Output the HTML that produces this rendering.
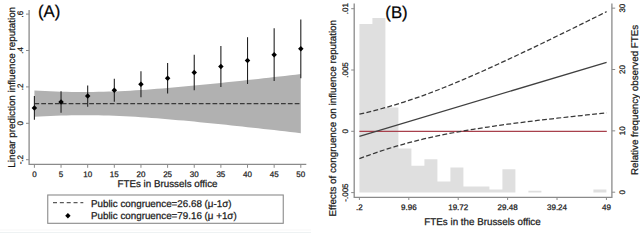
<!DOCTYPE html>
<html><head><meta charset="utf-8"><style>
html,body{margin:0;padding:0;background:#fff;width:640px;height:233px;overflow:hidden}
svg{display:block;font-family:"Liberation Sans",sans-serif;text-rendering:geometricPrecision} text{stroke:#1a1a1a;stroke-width:0.25px}
</style></head><body>
<svg width="640" height="233" viewBox="0 0 640 233">
<path d="M34.40,90.40 L39.73,90.71 L45.06,90.99 L50.38,91.23 L55.71,91.45 L61.04,91.63 L66.37,91.78 L71.70,91.89 L77.02,91.96 L82.35,92.00 L87.68,92.00 L93.01,91.95 L98.34,91.87 L103.66,91.76 L108.99,91.60 L114.32,91.41 L119.65,91.19 L124.98,90.94 L130.30,90.66 L135.63,90.34 L140.96,90.01 L146.29,89.65 L151.62,89.26 L156.94,88.86 L162.27,88.44 L167.60,88.00 L172.93,87.54 L178.26,87.07 L183.58,86.59 L188.91,86.09 L194.24,85.59 L199.57,85.07 L204.90,84.54 L210.22,84.01 L215.55,83.47 L220.88,82.91 L226.21,82.36 L231.54,81.79 L236.86,81.22 L242.19,80.65 L247.52,80.07 L252.85,79.48 L258.18,78.90 L263.50,78.30 L268.83,77.71 L274.16,77.11 L279.49,76.50 L284.82,75.90 L290.14,75.29 L295.47,74.67 L300.80,74.06 L300.80,133.14 L295.47,132.53 L290.14,131.91 L284.82,131.30 L279.49,130.70 L274.16,130.09 L268.83,129.49 L263.50,128.90 L258.18,128.30 L252.85,127.72 L247.52,127.13 L242.19,126.55 L236.86,125.98 L231.54,125.41 L226.21,124.84 L220.88,124.29 L215.55,123.73 L210.22,123.19 L204.90,122.66 L199.57,122.13 L194.24,121.61 L188.91,121.11 L183.58,120.61 L178.26,120.13 L172.93,119.66 L167.60,119.20 L162.27,118.76 L156.94,118.34 L151.62,117.94 L146.29,117.55 L140.96,117.19 L135.63,116.86 L130.30,116.54 L124.98,116.26 L119.65,116.01 L114.32,115.79 L108.99,115.60 L103.66,115.44 L98.34,115.33 L93.01,115.25 L87.68,115.20 L82.35,115.20 L77.02,115.24 L71.70,115.31 L66.37,115.42 L61.04,115.57 L55.71,115.75 L50.38,115.97 L45.06,116.21 L39.73,116.49 L34.40,116.80Z" fill="#b1b1b1"/>
<line x1="34.40" y1="103.6" x2="300.80" y2="103.6" stroke="#3a3a3a" stroke-width="1.3" stroke-dasharray="4.75 2.1"/>
<line x1="34.40" y1="96.00" x2="34.40" y2="119.80" stroke="#222" stroke-width="1.1"/>
<path d="M34.40,105.15 L37.15,107.90 L34.40,110.65 L31.65,107.90Z" fill="#000"/>
<line x1="61.04" y1="91.19" x2="61.04" y2="112.79" stroke="#222" stroke-width="1.1"/>
<path d="M61.04,99.24 L63.79,101.99 L61.04,104.74 L58.29,101.99Z" fill="#000"/>
<line x1="87.68" y1="85.43" x2="87.68" y2="106.73" stroke="#222" stroke-width="1.1"/>
<path d="M87.68,93.33 L90.43,96.08 L87.68,98.83 L84.93,96.08Z" fill="#000"/>
<line x1="114.32" y1="78.69" x2="114.32" y2="101.65" stroke="#222" stroke-width="1.1"/>
<path d="M114.32,87.42 L117.07,90.17 L114.32,92.92 L111.57,90.17Z" fill="#000"/>
<line x1="140.96" y1="71.16" x2="140.96" y2="97.36" stroke="#222" stroke-width="1.1"/>
<path d="M140.96,81.51 L143.71,84.26 L140.96,87.01 L138.21,84.26Z" fill="#000"/>
<line x1="167.60" y1="63.08" x2="167.60" y2="93.62" stroke="#222" stroke-width="1.1"/>
<path d="M167.60,75.60 L170.35,78.35 L167.60,81.10 L164.85,78.35Z" fill="#000"/>
<line x1="194.24" y1="54.65" x2="194.24" y2="90.23" stroke="#222" stroke-width="1.1"/>
<path d="M194.24,69.69 L196.99,72.44 L194.24,75.19 L191.49,72.44Z" fill="#000"/>
<line x1="220.88" y1="46.00" x2="220.88" y2="87.06" stroke="#222" stroke-width="1.1"/>
<path d="M220.88,63.78 L223.63,66.53 L220.88,69.28 L218.13,66.53Z" fill="#000"/>
<line x1="247.52" y1="37.21" x2="247.52" y2="84.03" stroke="#222" stroke-width="1.1"/>
<path d="M247.52,57.87 L250.27,60.62 L247.52,63.37 L244.77,60.62Z" fill="#000"/>
<line x1="274.16" y1="28.33" x2="274.16" y2="81.09" stroke="#222" stroke-width="1.1"/>
<path d="M274.16,51.96 L276.91,54.71 L274.16,57.46 L271.41,54.71Z" fill="#000"/>
<line x1="300.80" y1="19.38" x2="300.80" y2="78.22" stroke="#222" stroke-width="1.1"/>
<path d="M300.80,46.05 L303.55,48.80 L300.80,51.55 L298.05,48.80Z" fill="#000"/>
<path d="M29.1,10 V164.4 H306.3" fill="none" stroke="#8a8a8a" stroke-width="1.3"/>
<line x1="26" y1="159.70" x2="29.1" y2="159.70" stroke="#8a8a8a" stroke-width="1"/>
<text transform="translate(22.7,159.70) rotate(-90)" text-anchor="middle" font-size="8" fill="#1a1a1a">-.2</text>
<line x1="26" y1="123.30" x2="29.1" y2="123.30" stroke="#8a8a8a" stroke-width="1"/>
<text transform="translate(22.7,123.30) rotate(-90)" text-anchor="middle" font-size="8" fill="#1a1a1a">0</text>
<line x1="26" y1="86.90" x2="29.1" y2="86.90" stroke="#8a8a8a" stroke-width="1"/>
<text transform="translate(22.7,86.90) rotate(-90)" text-anchor="middle" font-size="8" fill="#1a1a1a">.2</text>
<line x1="26" y1="50.50" x2="29.1" y2="50.50" stroke="#8a8a8a" stroke-width="1"/>
<text transform="translate(22.7,50.50) rotate(-90)" text-anchor="middle" font-size="8" fill="#1a1a1a">.4</text>
<line x1="26" y1="14.10" x2="29.1" y2="14.10" stroke="#8a8a8a" stroke-width="1"/>
<text transform="translate(22.7,14.10) rotate(-90)" text-anchor="middle" font-size="8" fill="#1a1a1a">.6</text>
<line x1="34.40" y1="164.4" x2="34.40" y2="167.8" stroke="#8a8a8a" stroke-width="1"/>
<text x="34.40" y="176.9" text-anchor="middle" font-size="8" fill="#1a1a1a">0</text>
<line x1="61.04" y1="164.4" x2="61.04" y2="167.8" stroke="#8a8a8a" stroke-width="1"/>
<text x="61.04" y="176.9" text-anchor="middle" font-size="8" fill="#1a1a1a">5</text>
<line x1="87.68" y1="164.4" x2="87.68" y2="167.8" stroke="#8a8a8a" stroke-width="1"/>
<text x="87.68" y="176.9" text-anchor="middle" font-size="8" fill="#1a1a1a">10</text>
<line x1="114.32" y1="164.4" x2="114.32" y2="167.8" stroke="#8a8a8a" stroke-width="1"/>
<text x="114.32" y="176.9" text-anchor="middle" font-size="8" fill="#1a1a1a">15</text>
<line x1="140.96" y1="164.4" x2="140.96" y2="167.8" stroke="#8a8a8a" stroke-width="1"/>
<text x="140.96" y="176.9" text-anchor="middle" font-size="8" fill="#1a1a1a">20</text>
<line x1="167.60" y1="164.4" x2="167.60" y2="167.8" stroke="#8a8a8a" stroke-width="1"/>
<text x="167.60" y="176.9" text-anchor="middle" font-size="8" fill="#1a1a1a">25</text>
<line x1="194.24" y1="164.4" x2="194.24" y2="167.8" stroke="#8a8a8a" stroke-width="1"/>
<text x="194.24" y="176.9" text-anchor="middle" font-size="8" fill="#1a1a1a">30</text>
<line x1="220.88" y1="164.4" x2="220.88" y2="167.8" stroke="#8a8a8a" stroke-width="1"/>
<text x="220.88" y="176.9" text-anchor="middle" font-size="8" fill="#1a1a1a">35</text>
<line x1="247.52" y1="164.4" x2="247.52" y2="167.8" stroke="#8a8a8a" stroke-width="1"/>
<text x="247.52" y="176.9" text-anchor="middle" font-size="8" fill="#1a1a1a">40</text>
<line x1="274.16" y1="164.4" x2="274.16" y2="167.8" stroke="#8a8a8a" stroke-width="1"/>
<text x="274.16" y="176.9" text-anchor="middle" font-size="8" fill="#1a1a1a">45</text>
<line x1="300.80" y1="164.4" x2="300.80" y2="167.8" stroke="#8a8a8a" stroke-width="1"/>
<text x="300.80" y="176.9" text-anchor="middle" font-size="8" fill="#1a1a1a">50</text>
<text x="167.5" y="186.6" text-anchor="middle" font-size="9.8" fill="#1a1a1a">FTEs in Brussels office</text>
<text transform="translate(15,87.3) rotate(-90)" text-anchor="middle" font-size="9.8" fill="#1a1a1a">Linear prediction influence reputation</text>
<text x="38" y="16.6" font-size="16.8" fill="#000">(A)</text>
<rect x="47.75" y="195" width="235.5" height="28.3" fill="#fff" stroke="#8a8a8a" stroke-width="1.1"/>
<line x1="53" y1="202.6" x2="83.3" y2="202.6" stroke="#5a5a5a" stroke-width="1.4" stroke-dasharray="4 2.85"/>
<path d="M67.9,213 L70.6,215.7 L67.9,218.4 L65.2,215.7Z" fill="#000"/>
<text x="91" y="206.6" font-size="9.8" fill="#1a1a1a">Public congruence=26.68 (μ-1σ)</text>
<text x="91" y="219.3" font-size="9.8" fill="#1a1a1a">Public congruence=79.16 (μ +1σ)</text>
<rect x="0" y="232" width="311" height="1" fill="#eef2f3"/>
<rect x="0" y="229" width="311" height="2" fill="#fbfbfb"/>
<path d="M359.40,192.5 L359.40,23.90 L372.40,23.90 L372.40,18.10 L385.40,18.10 L385.40,107.40 L398.40,107.40 L398.40,148.50 L411.40,148.50 L411.40,165.70 L424.40,165.70 L424.40,159.30 L437.40,159.30 L437.40,181.50 L450.40,181.50 L450.40,167.60 L463.40,167.60 L463.40,186.60 L476.40,186.60 L476.40,186.60 L489.40,186.60 L489.40,189.50 L502.40,189.50 L502.40,169.20 L515.40,169.20 L515.40,192.5 Z M528.40,192.5 L528.40,190.70 L541.40,190.70 L541.40,192.5 Z M593.40,192.5 L593.40,189.50 L606.40,189.50 L606.40,192.5 Z " fill="#dfdfdf"/>
<line x1="359.4" y1="131.4" x2="606.8" y2="131.4" stroke="#a8404c" stroke-width="1.2"/>
<line x1="359.4" y1="136.4" x2="606.6" y2="62.3" stroke="#404040" stroke-width="1.25"/>
<path d="M359.40,114.15 L364.34,113.02 L369.29,111.83 L374.23,110.60 L379.18,109.31 L384.12,107.97 L389.06,106.58 L394.01,105.13 L398.95,103.63 L403.90,102.07 L408.84,100.46 L413.78,98.79 L418.73,97.07 L423.67,95.30 L428.62,93.48 L433.56,91.62 L438.50,89.71 L443.45,87.76 L448.39,85.77 L453.34,83.75 L458.28,81.69 L463.22,79.59 L468.17,77.47 L473.11,75.32 L478.06,73.15 L483.00,70.95 L487.94,68.72 L492.89,66.48 L497.83,64.22 L502.78,61.94 L507.72,59.65 L512.66,57.34 L517.61,55.02 L522.55,52.68 L527.50,50.33 L532.44,47.97 L537.38,45.60 L542.33,43.22 L547.27,40.83 L552.22,38.44 L557.16,36.03 L562.10,33.62 L567.05,31.20 L571.99,28.78 L576.94,26.35 L581.88,23.91 L586.82,21.47 L591.77,19.02 L596.71,16.57 L601.66,14.11 L606.60,11.65" fill="none" stroke="#383838" stroke-width="1.25" stroke-dasharray="4.9 2.3"/>
<path d="M359.40,158.65 L364.34,156.82 L369.29,155.04 L374.23,153.31 L379.18,151.63 L384.12,150.01 L389.06,148.43 L394.01,146.92 L398.95,145.46 L403.90,144.05 L408.84,142.70 L413.78,141.41 L418.73,140.16 L423.67,138.97 L428.62,137.82 L433.56,136.72 L438.50,135.66 L443.45,134.65 L448.39,133.68 L453.34,132.74 L458.28,131.83 L463.22,130.96 L468.17,130.12 L473.11,129.31 L478.06,128.52 L483.00,127.75 L487.94,127.01 L492.89,126.29 L497.83,125.59 L502.78,124.90 L507.72,124.23 L512.66,123.58 L517.61,122.94 L522.55,122.31 L527.50,121.69 L532.44,121.09 L537.38,120.49 L542.33,119.91 L547.27,119.33 L552.22,118.77 L557.16,118.21 L562.10,117.65 L567.05,117.11 L571.99,116.57 L576.94,116.04 L581.88,115.51 L586.82,114.99 L591.77,114.47 L596.71,113.96 L601.66,113.45 L606.60,112.95" fill="none" stroke="#383838" stroke-width="1.25" stroke-dasharray="4.9 2.3"/>
<path d="M354.2,3.5 V197.3 H611.9 V3.5" fill="none" stroke="#8a8a8a" stroke-width="1.3"/>
<line x1="351.2" y1="192.60" x2="354.2" y2="192.60" stroke="#8a8a8a" stroke-width="1"/>
<text transform="translate(348,192.60) rotate(-90)" text-anchor="middle" font-size="8" fill="#1a1a1a">-.005</text>
<line x1="351.2" y1="131.30" x2="354.2" y2="131.30" stroke="#8a8a8a" stroke-width="1"/>
<text transform="translate(348,131.30) rotate(-90)" text-anchor="middle" font-size="8" fill="#1a1a1a">0</text>
<line x1="351.2" y1="70.00" x2="354.2" y2="70.00" stroke="#8a8a8a" stroke-width="1"/>
<text transform="translate(348,70.00) rotate(-90)" text-anchor="middle" font-size="8" fill="#1a1a1a">.005</text>
<line x1="351.2" y1="8.70" x2="354.2" y2="8.70" stroke="#8a8a8a" stroke-width="1"/>
<text transform="translate(348,8.70) rotate(-90)" text-anchor="middle" font-size="8" fill="#1a1a1a">.01</text>
<line x1="611.9" y1="192.20" x2="615.2" y2="192.20" stroke="#8a8a8a" stroke-width="1"/>
<text transform="translate(624.8,192.20) rotate(-90)" text-anchor="middle" font-size="8" fill="#1a1a1a">0</text>
<line x1="611.9" y1="130.85" x2="615.2" y2="130.85" stroke="#8a8a8a" stroke-width="1"/>
<text transform="translate(624.8,130.85) rotate(-90)" text-anchor="middle" font-size="8" fill="#1a1a1a">10</text>
<line x1="611.9" y1="69.50" x2="615.2" y2="69.50" stroke="#8a8a8a" stroke-width="1"/>
<text transform="translate(624.8,69.50) rotate(-90)" text-anchor="middle" font-size="8" fill="#1a1a1a">20</text>
<line x1="611.9" y1="8.15" x2="615.2" y2="8.15" stroke="#8a8a8a" stroke-width="1"/>
<text transform="translate(624.8,8.15) rotate(-90)" text-anchor="middle" font-size="8" fill="#1a1a1a">30</text>
<line x1="359.40" y1="197.3" x2="359.40" y2="200" stroke="#8a8a8a" stroke-width="1"/>
<text x="359.40" y="210.4" text-anchor="middle" font-size="8" fill="#1a1a1a">.2</text>
<line x1="408.81" y1="197.3" x2="408.81" y2="200" stroke="#8a8a8a" stroke-width="1"/>
<text x="408.81" y="210.4" text-anchor="middle" font-size="8" fill="#1a1a1a">9.96</text>
<line x1="458.21" y1="197.3" x2="458.21" y2="200" stroke="#8a8a8a" stroke-width="1"/>
<text x="458.21" y="210.4" text-anchor="middle" font-size="8" fill="#1a1a1a">19.72</text>
<line x1="507.62" y1="197.3" x2="507.62" y2="200" stroke="#8a8a8a" stroke-width="1"/>
<text x="507.62" y="210.4" text-anchor="middle" font-size="8" fill="#1a1a1a">29.48</text>
<line x1="557.02" y1="197.3" x2="557.02" y2="200" stroke="#8a8a8a" stroke-width="1"/>
<text x="557.02" y="210.4" text-anchor="middle" font-size="8" fill="#1a1a1a">39.24</text>
<line x1="606.43" y1="197.3" x2="606.43" y2="200" stroke="#8a8a8a" stroke-width="1"/>
<text x="606.43" y="210.4" text-anchor="middle" font-size="8" fill="#1a1a1a">49</text>
<text x="482.5" y="225" text-anchor="middle" font-size="9.8" fill="#1a1a1a">FTEs in the Brussels office</text>
<text transform="translate(335.5,118.2) rotate(-90)" text-anchor="middle" font-size="9.8" fill="#1a1a1a">Effects of congruence on influence reputation</text>
<text transform="translate(637.5,99.9) rotate(-90)" text-anchor="middle" font-size="9.8" fill="#1a1a1a">Relative frequency observed FTEs</text>
<text x="385.3" y="18.1" font-size="16.8" fill="#000">(B)</text>
</svg>
</body></html>
